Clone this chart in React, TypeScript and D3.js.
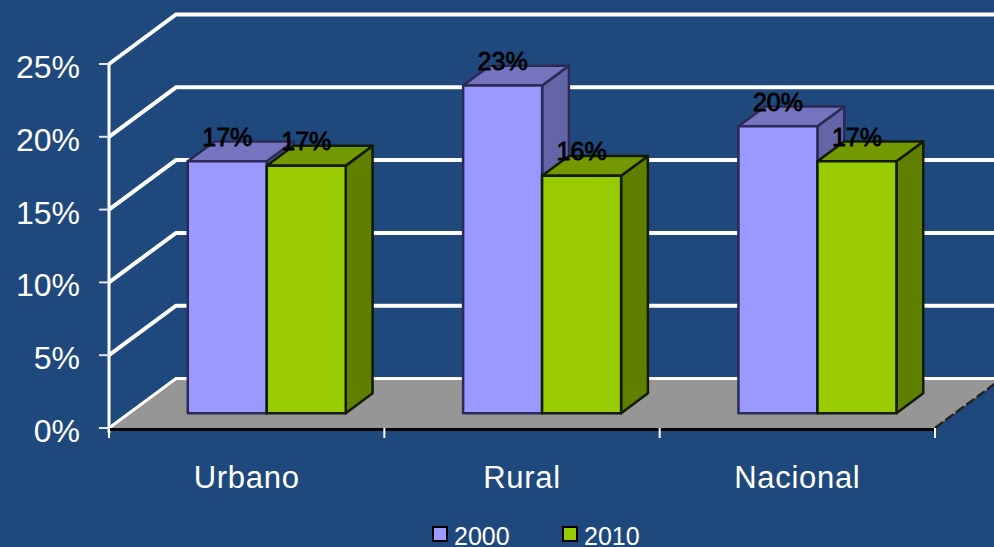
import React from "react";
import * as d3 from "d3";

const categories = ["Urbano", "Rural", "Nacional"];
const seriesNames = ["2000", "2010"];
const values2000 = [17.3, 22.5, 19.7];
const values2010 = [17.0, 16.3, 17.3];
const yTicks = [0, 5, 10, 15, 20, 25];

const W = 994, H = 547;
const x = d3.scaleBand<string>().domain(categories).range([109, 935]);
const y = d3.scaleLinear().domain([0, 25]).range([428, 64]);
// depth 0 = front of chart, 1 = back wall
const DX = 67, DY = -49.5;
const P = (px: number, v: number, z: number): [number, number] => [px + DX * z, y(v) + DY * z];
const path = (pts: [number, number][]) => d3.line()(pts)! + "Z";

const barZ0 = 0.3, barZ1 = 0.7;
const barW = 79;
const fills = [
  { front: "#9999FF", top: "#7575BF", side: "#6464A8", edge: "#2a2a55" },
  { front: "#99CC00", top: "#739900", side: "#5F7F00", edge: "#121a00" },
];
const font = "'Liberation Sans', Arial, sans-serif";

function Bar({ x0, v, s }: { x0: number; v: number; s: number }) {
  const f = fills[s];
  const x1 = x0 + barW;
  const common = { stroke: f.edge, strokeWidth: 2.5, strokeLinejoin: "round" as const };
  return (
    <g>
      <path d={path([P(x1, 0, barZ0), P(x1, 0, barZ1), P(x1, v, barZ1), P(x1, v, barZ0)])} fill={f.side} {...common} />
      <path d={path([P(x0, v, barZ0), P(x1, v, barZ0), P(x1, v, barZ1), P(x0, v, barZ1)])} fill={f.top} {...common} />
      <path d={path([P(x0, 0, barZ0), P(x1, 0, barZ0), P(x1, v, barZ0), P(x0, v, barZ0)])} fill={f.front} {...common} />
    </g>
  );
}

export default function App() {
  const series = [values2000, values2010];
  const bw = x.bandwidth();
  return (
    <svg width={W} height={H} viewBox={`0 0 ${W} ${H}`} style={{ position: "fixed", left: 0, top: 0, display: "block", background: "#1F497D" }} fontFamily={font}>
      {/* gridlines on wall */}
      {yTicks.slice(1).map((t) => (
        <path key={t} d={d3.line()([P(109, t, 0), P(109, t, 1), P(W + 20, t, 1)])!} fill="none" stroke="#fff" strokeWidth={4} />
      ))}
      {/* floor */}
      <path d={path([P(109, 0, 0), P(935, 0, 0), P(935, 0, 1), P(109, 0, 1)])} fill="#969696" />
      <path d={d3.line()([P(109, 0, 0), P(109, 0, 1), P(W + 20, 0, 1)])!} fill="none" stroke="#fff" strokeWidth={3} />
      <path d={d3.line()([P(935, 0, 0), P(935, 0, 1)])!} fill="none" stroke="#222" strokeWidth={2.5} strokeDasharray="10 3" />
      {/* axes */}
      <line x1={109} x2={109} y1={y(25)} y2={y(0) + 5} stroke="#fff" strokeWidth={3} />
      <line x1={109} x2={935} y1={y(0) + 1.5} y2={y(0) + 1.5} stroke="#000" strokeWidth={3} />
      {yTicks.map((t) => (
        <g key={t}>
          <line x1={99} x2={109} y1={y(t)} y2={y(t)} stroke="#dfe6ee" strokeWidth={2} />
          <text x={80} y={y(t) + 14} textAnchor="end" fontSize={32} fill="#fff">{t}%</text>
        </g>
      ))}
      {[...categories.map((c) => x(c)!), 935].map((px) => (
        <line key={px} x1={px} x2={px} y1={428} y2={438} stroke="#fff" strokeWidth={2} />
      ))}
      {categories.map((c) => (
        <text key={c} x={x(c)! + bw / 2} y={488} textAnchor="middle" fontSize={31} letterSpacing={0.7} fill="#fff">{c}</text>
      ))}
      {/* bars */}
      {categories.map((c, i) => {
        const cx = x(c)! + bw / 2;
        return (
          <g key={c}>
            {series.map((vals, s) => (
              <Bar key={s} x0={cx + (s - 1) * barW} v={vals[i]} s={s} />
            ))}
          </g>
        );
      })}
      {/* data labels */}
      {categories.map((c, i) => {
        const cx = x(c)! + bw / 2;
        return series.map((vals, s) => {
          const [lx, ly] = P(cx + (s - 0.5) * barW, vals[i], barZ0);
          return (
            <text key={c + s} x={lx} y={ly - 15.5} textAnchor="middle" fontSize={25} fill="#000" stroke="#000" strokeWidth={0.8}>
              {Math.round(vals[i])}%
            </text>
          );
        });
      })}
      {/* legend */}
      {seriesNames.map((n, s) => {
        const lx = 433 + s * 130;
        return (
          <g key={n}>
            <rect x={lx} y={527} width={14} height={14} fill={fills[s].front} stroke="#000" strokeWidth={2} />
            <text x={lx + 21} y={545} fontSize={25} fill="#fff">{n}</text>
          </g>
        );
      })}
    </svg>
  );
}
